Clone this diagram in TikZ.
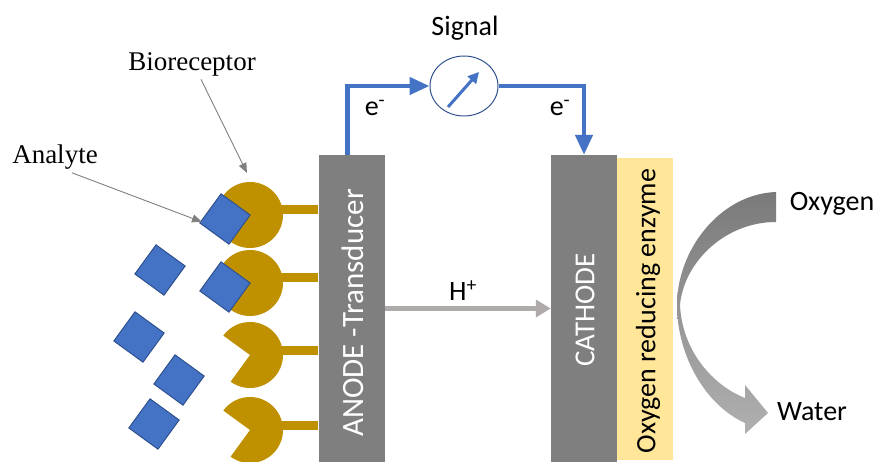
\documentclass[tikz,border=0pt]{standalone}
\usepackage{fontspec}
\setmainfont{Carlito}
\newfontfamily\labelfont{Liberation Serif}
\usetikzlibrary{arrows.meta, shapes.geometric}
\definecolor{ecol}{HTML}{7F7F7F}
\definecolor{enzcol}{HTML}{FFE699}
\definecolor{wcol}{HTML}{4472C4}
\definecolor{bcol}{HTML}{2F528F}
\definecolor{rcol}{HTML}{BF9000}
\definecolor{hcol}{HTML}{AFABAB}
\definecolor{pcol}{HTML}{808080}
\definecolor{otop}{HTML}{7A7A7A}
\definecolor{obot}{HTML}{B0B0B0}

\begin{document}
\begin{tikzpicture}[x=1pt, y=-1pt, >={Triangle[length=20pt, width=17pt]},
  sans/.style={font=\fontsize{28}{34}\selectfont},
  bartext/.style={font=\fontsize{29}{35}\selectfont, rotate=90},
  serlabel/.style={font=\labelfont\fontsize{27}{32}\selectfont},
  electrode/.style={fill=ecol, inner sep=0pt, minimum width=66pt, minimum height=307pt},
  wire/.style={wcol, line width=4.5pt},
  proton/.style={hcol, line width=5pt, -{Triangle[length=15pt, width=17pt]}},
  pointer/.style={pcol, line width=0.9pt, -{Triangle[length=10pt, width=8pt]}},
  analyte/.style={draw=bcol, fill=wcol, line width=1pt, minimum size=36pt, inner sep=0pt, rotate=-36},
  receptor/.style={fill=rcol},
  stem/.style={rcol, line width=9pt}]

\useasboundingbox (0,0) rectangle (875,462);

% electrodes
\node[electrode] (anode) at (351.5,308.5) {};
\node[bartext, white, font=\fontsize{31}{36}\selectfont] (anodetxt) at (353,313) {ANODE -Transducer};
\node[electrode] (cathode) at (584,308.5) {};
\node[bartext, white] (cathodetxt) at (585,310) {CATHODE};
\node[fill=enzcol, inner sep=0pt, minimum width=56pt, minimum height=302pt, anchor=north west]
  (enzyme) at ([yshift=-3pt]cathode.north east) {};
\node[bartext, font=\fontsize{28}{34}\selectfont] (enzymetxt) at (648,311) {Oxygen reducing enzyme};

% external circuit
\node[ellipse, draw=bcol, line width=1pt, fill=white, minimum width=68pt, minimum height=60pt] (meter) at (464,86) {};
\draw[wcol, line width=3pt, -{Triangle[length=11pt, width=11pt]}]
  ([shift={(-16,21)}]meter.center) -- ([shift={(15,-14)}]meter.center);
\node[sans] (signal) at (465,28) {Signal};
\draw[wire, ->] ([xshift=-4pt]anode.north) |- (meter.west);
\draw[wire, ->] (meter.east) -| (cathode.north);
\node[sans] (eleft) at (375,108) {e\textsuperscript{-}};
\node[sans] (eright) at (560,108) {e\textsuperscript{-}};

% proton transport
\draw[proton] (anode.east) -- (cathode.west);
\node[sans] (hplus) at (463,291) {H\textsuperscript{+}};

% oxygen reduction
\shade[top color=otop, bottom color=obot]
  (776,192) .. controls (720,194) and (677,250) .. (677,305)
  .. controls (677,355) and (705,405) .. (745,423)
  -- (745,434) -- (768,413) -- (745,385) -- (745,398)
  .. controls (712,385) and (682,350) .. (680,305)
  .. controls (684,262) and (725,222) .. (776,222) -- cycle;
\node[sans] (oxygen) at (832,204) {Oxygen};
\node[sans] (water) at (812,412) {Water};

% bioreceptors
\foreach \n/\y in {1/215, 2/283, 3/355, 4/430} {
  \coordinate (pac\n) at (250,\y);
  \draw[stem] ([yshift=5pt]pac\n) -- ([yshift=5pt]pac\n -| anode.west);
  \fill[receptor] (pac\n) -- +(126:33) arc[start angle=126, end angle=-144, radius=33] -- cycle;
}

% analytes
\node[analyte] (bound1) at ([shift={(-25,4)}]pac1) {};
\node[analyte] (bound2) at ([shift={(-25,4)}]pac2) {};
\node[analyte] (freeA) at (160,270) {};
\node[analyte] (freeB) at (139,337) {};
\node[analyte] (freeC) at (179,380) {};
\node[analyte] (freeD) at (154,424) {};

% labels
\node[serlabel] (bio) at (192,64) {Bioreceptor};
\coordinate (biotip) at (247,173);
\draw[pointer] ([xshift=9pt]bio.south) -- (biotip);
\node[serlabel] (ana) at (55,157) {Analyte};
\coordinate (anatip) at (202,222);
\draw[pointer] ([xshift=17pt]ana.south) -- (anatip);

\end{tikzpicture}
\end{document}
